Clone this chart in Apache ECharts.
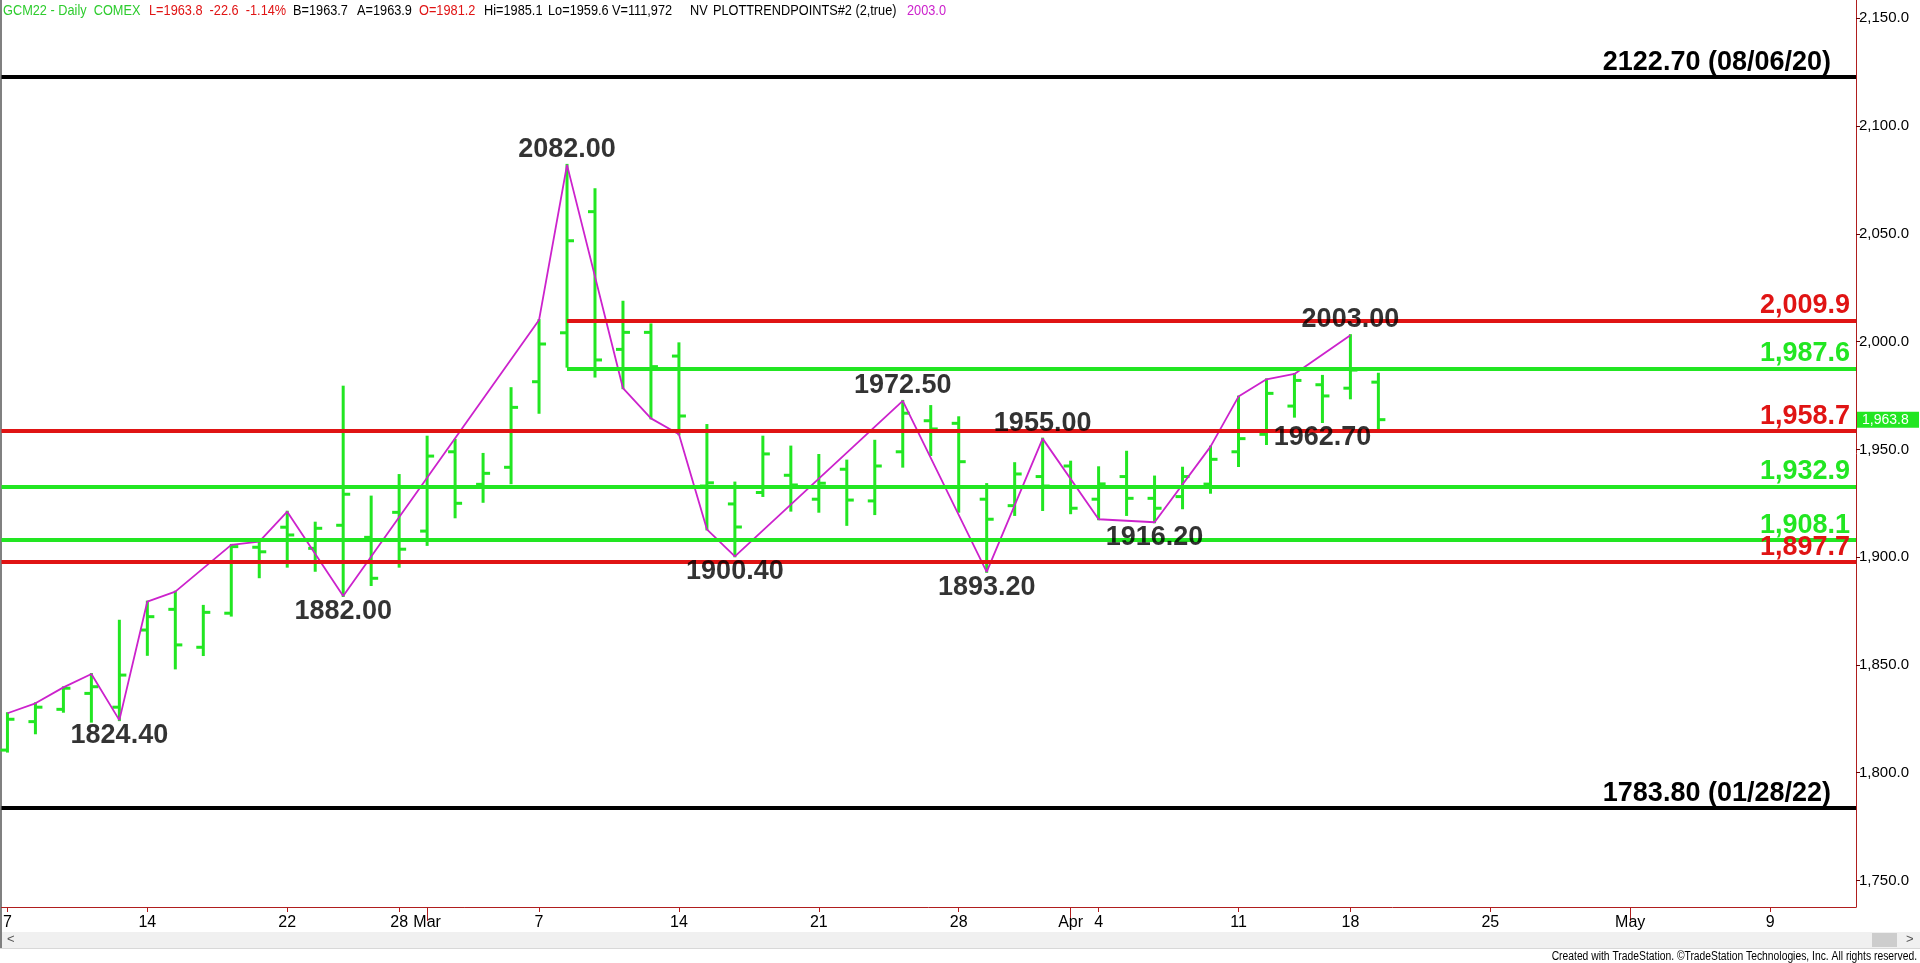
<!DOCTYPE html>
<html><head><meta charset="utf-8">
<script src="https://cdn.jsdelivr.net/npm/echarts@6/dist/echarts.min.js"></script>
<style>html,body{margin:0;padding:0;background:#fff;overflow:hidden}#c{width:1920px;height:963px}</style>
</head><body><div id="c"></div>
<script>
// ---- data ----
const dates = ['2022-02-07','2022-02-08','2022-02-09','2022-02-10','2022-02-11','2022-02-14','2022-02-15','2022-02-16','2022-02-17','2022-02-18','2022-02-22','2022-02-23','2022-02-24','2022-02-25','2022-02-28',
'2022-03-01','2022-03-02','2022-03-03','2022-03-04','2022-03-07','2022-03-08','2022-03-09','2022-03-10','2022-03-11','2022-03-14','2022-03-15','2022-03-16','2022-03-17','2022-03-18','2022-03-21','2022-03-22','2022-03-23','2022-03-24','2022-03-25','2022-03-28','2022-03-29','2022-03-30','2022-03-31',
'2022-04-01','2022-04-04','2022-04-05','2022-04-06','2022-04-07','2022-04-08','2022-04-11','2022-04-12','2022-04-13','2022-04-14','2022-04-18','2022-04-19','2022-04-20','2022-04-21','2022-04-22','2022-04-25','2022-04-26','2022-04-27','2022-04-28','2022-04-29',
'2022-05-02','2022-05-03','2022-05-04','2022-05-05','2022-05-06','2022-05-09','2022-05-10','2022-05-11','2022-05-12'];
const opens  = [1810.5,1823.7,1829.4,1836.8,1830.4,1866.2,1875.8,1858.2,1874.0,1904.6,1913.9,1904.1,1914.8,1909.2,1920.8,
1912.1,1948.9,1933.8,1941.7,1981.4,2004.1,2060.3,1996.4,2004.3,1993.3,1933.0,1924.7,1930.0,1938.0,1926.9,1940.8,1926.1,1948.9,1963.3,1962.1,1926.9,1923.9,1937.4,
1942.3,1926.9,1937.4,1927.3,1928.1,1933.9,1948.9,1957.0,1970.1,1980.0,1978.4,1981.2];
const highs  = [1827.6,1832.2,1839.6,1845.8,1870.5,1879.4,1884.0,1877.4,1905.7,1907.2,1921.1,1916.0,1979.1,1928.1,1938.1,
1955.9,1954.4,1947.9,1978.4,2010.0,2082.0,2070.7,2018.5,2008.0,1999.2,1961.3,1934.6,1955.9,1951.3,1947.4,1944.8,1954.0,1972.5,1970.1,1964.9,1933.9,1943.6,1955.0,
1944.3,1941.7,1948.9,1937.4,1941.5,1951.3,1974.5,1982.5,1985.0,1984.1,2003.0,1985.1];
const lows   = [1809.8,1818.3,1828.3,1823.7,1824.4,1854.7,1848.4,1854.6,1872.9,1890.7,1895.6,1893.7,1882.0,1887.1,1895.6,
1905.7,1918.5,1925.7,1934.3,1967.0,1988.4,1983.8,1978.4,1964.4,1957.0,1912.9,1900.4,1928.4,1921.6,1921.1,1915.0,1920.0,1942.0,1947.4,1921.1,1893.2,1919.6,1921.9,
1920.4,1917.6,1919.6,1916.2,1922.7,1929.9,1942.3,1952.5,1965.2,1962.7,1973.7,1959.6];
const closes = [1824.8,1830.4,1839.2,1839.9,1845.3,1872.4,1859.3,1874.4,1904.9,1902.5,1910.3,1913.4,1929.2,1890.2,1903.7,
1946.9,1925.0,1938.9,1969.5,1998.9,2046.8,1991.5,2004.3,1988.4,1965.5,1934.5,1914.0,1947.9,1933.5,1934.3,1926.5,1942.3,1966.8,1959.5,1944.3,1917.6,1938.6,1933.0,
1922.7,1934.0,1927.3,1922.7,1937.4,1945.4,1955.0,1976.0,1982.0,1974.8,1986.8,1963.8];

const zigzagDates = ['2022-02-07','2022-02-08','2022-02-09','2022-02-10','2022-02-11','2022-02-14','2022-02-15','2022-02-17','2022-02-18','2022-02-22','2022-02-24','2022-03-07','2022-03-08','2022-03-10','2022-03-11','2022-03-14','2022-03-15','2022-03-16','2022-03-24','2022-03-29','2022-03-31','2022-04-04','2022-04-06','2022-04-08','2022-04-11','2022-04-12','2022-04-13','2022-04-18'];
const zigzagValues = [1827.6,1832.2,1839.6,1845.8,1824.4,1879.4,1884.0,1905.7,1907.2,1921.1,1882.0,2010.0,2082.0,1978.4,1964.4,1957.0,1912.9,1900.4,1972.5,1893.2,1955.0,1917.6,1916.2,1951.3,1974.5,1982.5,1985.0,2003.0];

const pivotDates  = ['2022-02-11','2022-02-24','2022-03-08','2022-03-16','2022-03-24','2022-03-29','2022-03-31','2022-04-06','2022-04-14','2022-04-18'];
const pivotValues = [1824.4,1882.0,2082.0,1900.4,1972.5,1893.2,1955.0,1916.2,1962.7,2003.0];
const pivotTexts  = ['1824.40','1882.00','2082.00','1900.40','1972.50','1893.20','1955.00','1916.20','1962.70','2003.00'];
const pivotKinds  = ['low','low','high','low','high','low','high','low','low','high'];

const levelValues = [2122.7,2009.9,1987.6,1958.7,1932.9,1908.1,1897.7,1783.8];
const levelTexts  = ['2122.70 (08/06/20)','2,009.9','1,987.6','1,958.7','1,932.9','1,908.1','1,897.7','1783.80 (01/28/22)'];
const levelStartDates = [null,'2022-03-08','2022-03-08',null,null,null,null,null];
const levelKinds  = ['hist','res','sup','res','sup','sup','res','hist'];

const xTickDates  = ['2022-02-07','2022-02-14','2022-02-22','2022-02-28','2022-03-01','2022-03-07','2022-03-14','2022-03-21','2022-03-28','2022-04-01','2022-04-04','2022-04-11','2022-04-18','2022-04-25','2022-05-02','2022-05-09'];
const xTickLabels = ['7','14','22','28','Mar','7','14','21','28','Apr','4','11','18','25','May','9'];
const monthStartDates = ['2022-03-01','2022-04-01','2022-05-02'];
const yTickValues = [1750,1800,1850,1900,1950,2000,2050,2100,2150];
const lastPrice = 1963.8;

// ---- styles ----
const GREEN = '#22e622', RED = '#e01414', MAG = '#cc22cc', AXIS = '#b01e1e';
const kindColor = {hist:'#000000', res:RED, sup:GREEN};
const NARROW = '"Liberation Sans Narrow","Arial Narrow",sans-serif';
const SANS = '"Liberation Sans",Arial,sans-serif';
const X_MIN = -0.214, X_MAX = 66.071;

const idx = d => dates.indexOf(d);
const ohlc = opens.map((o,i)=>[i,o,closes[i],lows[i],highs[i]]);
const tickIdx = xTickDates.map(idx);
const labelByIdx = {}; tickIdx.forEach((t,i)=>labelByIdx[t]=xTickLabels[i]);

const chart = echarts.init(document.getElementById('c'), null, {renderer:'canvas'});

const markLines = levelValues.map((v,i)=>{
  const c = kindColor[levelKinds[i]];
  const s = levelStartDates[i] ? idx(levelStartDates[i]) : X_MIN;
  return [{coord:[s,v], name:levelTexts[i], lineStyle:{color:c,width:4,type:'solid'},
           label:{show:true, position:'insideEndTop', formatter:'{b}', color:c, fontFamily:SANS, fontWeight:'bold', fontSize:27,
                  distance: levelKinds[i]==='hist' ? [25,1] : [6,1]}},
          {coord:[X_MAX,v]}];
});

const header = [
  ['GCM22 - Daily  COMEX',3,'#2ecc2e'],['L=1963.8  -22.6  -1.14%',149,RED],
  ['B=1963.7',293,'#000'],['A=1963.9',357,'#000'],['O=1981.2',419,RED],['Hi=1985.1',484,'#000'],
  ['Lo=1959.6',548,'#000'],['V=111,972',612,'#000'],['NV',690,'#000'],['PLOTTRENDPOINTS#2 (2,true)',713,'#000'],['2003.0',907,MAG]
];

chart.setOption({
  animation:false,
  backgroundColor:'#ffffff',
  grid:{left:0,right:64,top:0,bottom:56,containLabel:false},
  xAxis:[{type:'value',min:X_MIN,max:X_MAX,position:'bottom',splitLine:{show:false},
    axisLine:{show:true,onZero:false,lineStyle:{color:AXIS,width:1}},
    axisTick:{show:true,customValues:tickIdx,length:5,lineStyle:{color:AXIS}},
    axisLabel:{show:true,customValues:tickIdx,formatter:v=>labelByIdx[v]||'',color:'#000',fontFamily:NARROW,fontSize:16,margin:8}},
   {type:'value',min:X_MIN,max:X_MAX,position:'bottom',splitLine:{show:false},axisLine:{show:false},
    axisTick:{show:true,customValues:monthStartDates.map(idx),length:14,lineStyle:{color:AXIS}},
    axisLabel:{show:false}}],
  yAxis:{type:'value',position:'right',min:1737.7,max:2158.5,splitLine:{show:false},
    axisLine:{show:true,onZero:false,lineStyle:{color:AXIS,width:1}},
    axisTick:{show:true,customValues:yTickValues,length:4,lineStyle:{color:'#600'}},
    axisLabel:{customValues:yTickValues,formatter:v=>v.toLocaleString('en-US',{minimumFractionDigits:1,maximumFractionDigits:1}),
      color:'#000',fontFamily:SANS,fontSize:15,margin:3}},
  series:[
    {type:'custom',name:'GCM22',z:2,data:ohlc,encode:{x:0,y:[1,2,3,4]},
     renderItem:(p,api)=>{
       const x=api.value(0);
       const o=api.coord([x,api.value(1)]), c=api.coord([x,api.value(2)]);
       const l=api.coord([x,api.value(3)]), h=api.coord([x,api.value(4)]);
       const st={stroke:GREEN,lineWidth:3};
       return {type:'group',children:[
         {type:'line',shape:{x1:h[0],y1:h[1]-1,x2:l[0],y2:l[1]+1},style:st},
         {type:'line',shape:{x1:o[0]-7,y1:o[1],x2:o[0],y2:o[1]},style:st},
         {type:'line',shape:{x1:c[0],y1:c[1],x2:c[0]+7,y2:c[1]},style:st}]};
     }},
    {type:'line',name:'levels',z:3,data:[],silent:true,
     markLine:{silent:true,symbol:['none','none'],animation:false,data:markLines}},
    {type:'line',name:'zigzag',z:4,symbol:'none',silent:true,
     data:zigzagDates.map((d,i)=>[idx(d),zigzagValues[i]]),lineStyle:{color:MAG,width:1.8}},
    {type:'scatter',name:'pivots',z:5,symbolSize:0,silent:true,
     data:pivotDates.map((d,i)=>({value:[idx(d),pivotValues[i]],
       label:{show:true,formatter:pivotTexts[i],position:pivotKinds[i]==='high'?'top':'bottom',distance:2,
              color:'#000',fontFamily:SANS,fontWeight:'bold',fontSize:27}}))},
    {type:'custom',name:'last',z:6,data:[[ohlc.length-1,lastPrice]],
     renderItem:(p,api)=>{
       const pt=api.coord([api.value(0),api.value(1)]);
       const gx=p.coordSys.x+p.coordSys.width;
       return {type:'group',children:[
         {type:'rect',shape:{x:gx+1,y:pt[1]-8,width:62,height:16},style:{fill:GREEN}},
         {type:'text',x:gx+6,y:pt[1],style:{text:lastPrice.toLocaleString('en-US',{minimumFractionDigits:1}),fill:'#fff',font:'14px '+SANS,verticalAlign:'middle'}}]};
     }}
  ],
  graphic:[
    {type:'rect',x:0,y:0,shape:{width:2,height:948},style:{fill:'#808080'}},
    {type:'rect',x:2,y:932,shape:{width:1918,height:16},style:{fill:'#f0f0f0'}},
    {type:'rect',x:0,y:948,shape:{width:1920,height:1},style:{fill:'#d8d8d8'}},
    {type:'rect',x:1872,y:933,shape:{width:25,height:14},style:{fill:'#cdcdcd'}},
    {type:'text',x:7,y:933,style:{text:'<',fill:'#555',font:'13px '+SANS}},
    {type:'text',x:1906,y:933,style:{text:'>',fill:'#555',font:'13px '+SANS}},
    {type:'text',x:1917,y:951,scaleX:0.86,style:{text:'Created with TradeStation. \u00A9TradeStation Technologies, Inc. All rights reserved.',fill:'#000',font:'12px '+SANS,align:'right'}},
    ...header.map(h=>({type:'text',x:h[1],y:3,scaleX:0.85,style:{text:h[0],fill:h[2],font:'15px '+SANS}}))
  ]
});
</script></body></html>
